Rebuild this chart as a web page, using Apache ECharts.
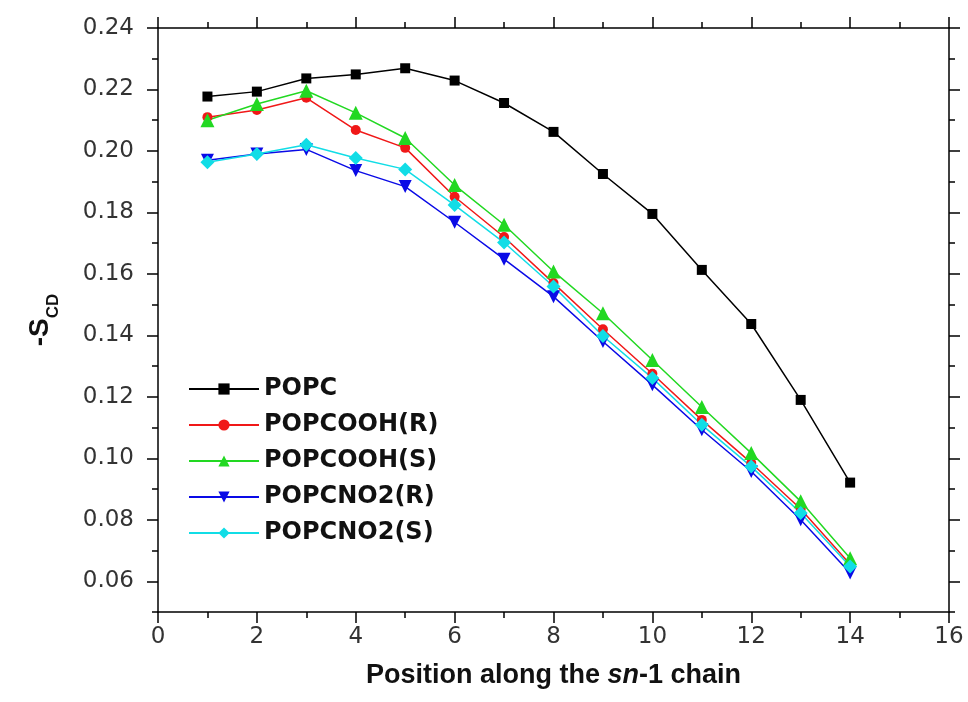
<!DOCTYPE html>
<html>
<head>
<meta charset="utf-8">
<script src="https://cdn.jsdelivr.net/npm/echarts@6/dist/echarts.min.js"></script>
<style>
  html, body { margin: 0; padding: 0; background: #fff; }
  #chart { width: 968px; height: 702px; }
</style>
</head>
<body>
<div id="chart"></div>
<script>
// Carbon position along the sn-1 chain
const positions = [1, 2, 3, 4, 5, 6, 7, 8, 9, 10, 11, 12, 13, 14];

// Order parameter -S_CD per lipid system
const popc   = [0.2177, 0.2193, 0.2236, 0.2249, 0.2269, 0.2229, 0.2156, 0.2062, 0.1925, 0.1795, 0.1613, 0.1437, 0.1190, 0.0921];
const oohR   = [0.2110, 0.2133, 0.2173, 0.2068, 0.2010, 0.1851, 0.1720, 0.1570, 0.1420, 0.1275, 0.1125, 0.0985, 0.0835, 0.0655];
const oohS   = [0.2100, 0.2153, 0.2196, 0.2124, 0.2042, 0.1889, 0.1760, 0.1608, 0.1472, 0.1320, 0.1167, 0.1017, 0.0860, 0.0675];
const no2R   = [0.1970, 0.1990, 0.2005, 0.1936, 0.1884, 0.1768, 0.1648, 0.1526, 0.1380, 0.1239, 0.1093, 0.0957, 0.0800, 0.0627];
const no2S   = [0.1963, 0.1990, 0.2020, 0.1977, 0.1940, 0.1824, 0.1702, 0.1559, 0.1398, 0.1261, 0.1109, 0.0973, 0.0822, 0.0648];

const seriesNames = ['POPC', 'POPCOOH(R)', 'POPCOOH(S)', 'POPCNO2(R)', 'POPCNO2(S)'];

// Axis ticks
const yMajorTicks = [0.06, 0.08, 0.10, 0.12, 0.14, 0.16, 0.18, 0.20, 0.22, 0.24];
const xTickLabels = ['0', '2', '4', '6', '8', '10', '12', '14', '16'];

const FONT = 'DejaVu Sans';
const Y_MIN = 0.05, Y_MAX = 0.24;

function pairs(vals) {
  return positions.map((p, i) => [p, vals[i]]);
}

function lineSeries(name, vals, color, symbol, size) {
  return {
    name: name,
    type: 'line',
    data: pairs(vals),
    symbol: symbol,
    symbolSize: size,
    lineStyle: { color: color, width: 1.5 },
    itemStyle: { color: color },
    emphasis: { disabled: true },
    animation: false,
    z: 3
  };
}

function majorY(position, showLabels) {
  return {
    type: 'value', position: position, min: Y_MIN, max: Y_MAX, interval: 0.01,
    axisLine: { show: true, lineStyle: { color: '#000', width: 1.5 } },
    axisTick: { show: true, inside: false, length: 11, customValues: yMajorTicks,
                lineStyle: { color: '#000', width: 1.5 } },
    axisLabel: showLabels ? {
      show: true, customValues: yMajorTicks, margin: 24,
      formatter: v => v.toFixed(2),
      fontFamily: FONT, fontSize: 23, color: '#333'
    } : { show: false },
    splitLine: { show: false }
  };
}

function minorY(position) {
  return {
    type: 'value', position: position, min: Y_MIN, max: Y_MAX, interval: 0.01,
    axisLine: { show: false },
    axisTick: { show: true, inside: false, length: 6, lineStyle: { color: '#000', width: 1.5 } },
    axisLabel: { show: false },
    splitLine: { show: false }
  };
}

function xAxisDef(position, showLabels) {
  return {
    type: 'value', position: position, min: 0, max: 16, interval: 2,
    axisLine: { show: true, onZero: false, lineStyle: { color: '#000', width: 1.5 } },
    axisTick: { show: true, inside: false, length: 11, lineStyle: { color: '#000', width: 1.5 } },
    minorTick: { show: true, splitNumber: 2, length: 6, lineStyle: { color: '#000', width: 1.5 } },
    axisLabel: showLabels ? {
      show: true, margin: 14,
      formatter: v => xTickLabels[Math.round(v / 2)],
      fontFamily: FONT, fontSize: 23, color: '#333'
    } : { show: false },
    splitLine: { show: false },
    minorSplitLine: { show: false }
  };
}

const xBottom = xAxisDef('bottom', true);
xBottom.name = '{b|Position along the }{i|sn}{b|-1 chain}';
xBottom.nameLocation = 'middle';
xBottom.nameGap = 50;
xBottom.nameTextStyle = {
  rich: {
    b: { fontFamily: 'Liberation Sans', fontWeight: 'bold', fontSize: 27, color: '#111' },
    i: { fontFamily: 'Liberation Sans', fontWeight: 'bold', fontStyle: 'italic', fontSize: 27, color: '#111' }
  }
};

const yLeft = majorY('left', true);
yLeft.name = '{m|-S}{s|CD}';
yLeft.nameLocation = 'middle';
yLeft.nameRotate = 90;
yLeft.nameGap = 104;
yLeft.nameTextStyle = {
  rich: {
    m: { fontFamily: 'Liberation Sans', fontWeight: 'bold', fontSize: 28, color: '#111',
         lineHeight: 34, verticalAlign: 'bottom' },
    s: { fontFamily: 'Liberation Sans', fontWeight: 'bold', fontSize: 17, color: '#111',
         lineHeight: 34, verticalAlign: 'bottom', padding: [0, 0, -8, 0] }
  }
};

const chart = echarts.init(document.getElementById('chart'), null, { renderer: 'canvas' });
chart.setOption({
  backgroundColor: '#fff',
  animation: false,
  grid: { left: 158, top: 28, right: 19, bottom: 90, containLabel: false },
  xAxis: [xBottom, xAxisDef('top', false)],
  yAxis: [yLeft, minorY('left'), majorY('right', false), minorY('right')],
  legend: {
    orient: 'vertical',
    left: 183,
    top: 372,
    itemWidth: 70,
    itemHeight: 14,
    itemGap: 12,
    selectedMode: false,
    textStyle: { fontFamily: FONT, fontWeight: 'bold', fontSize: 24, color: '#111' },
    data: seriesNames
  },
  series: [
    lineSeries(seriesNames[0], popc, '#000000', 'rect', 10),
    lineSeries(seriesNames[1], oohR, '#f01818', 'circle', 10),
    lineSeries(seriesNames[2], oohS, '#22d822', 'triangle', 14),
    lineSeries(seriesNames[3], no2R, '#0a0ae6', 'path://M0,0 L10,0 L5,9 Z', 13),
    lineSeries(seriesNames[4], no2S, '#11dde6', 'diamond', 14)
  ]
});
</script>
</body>
</html>
